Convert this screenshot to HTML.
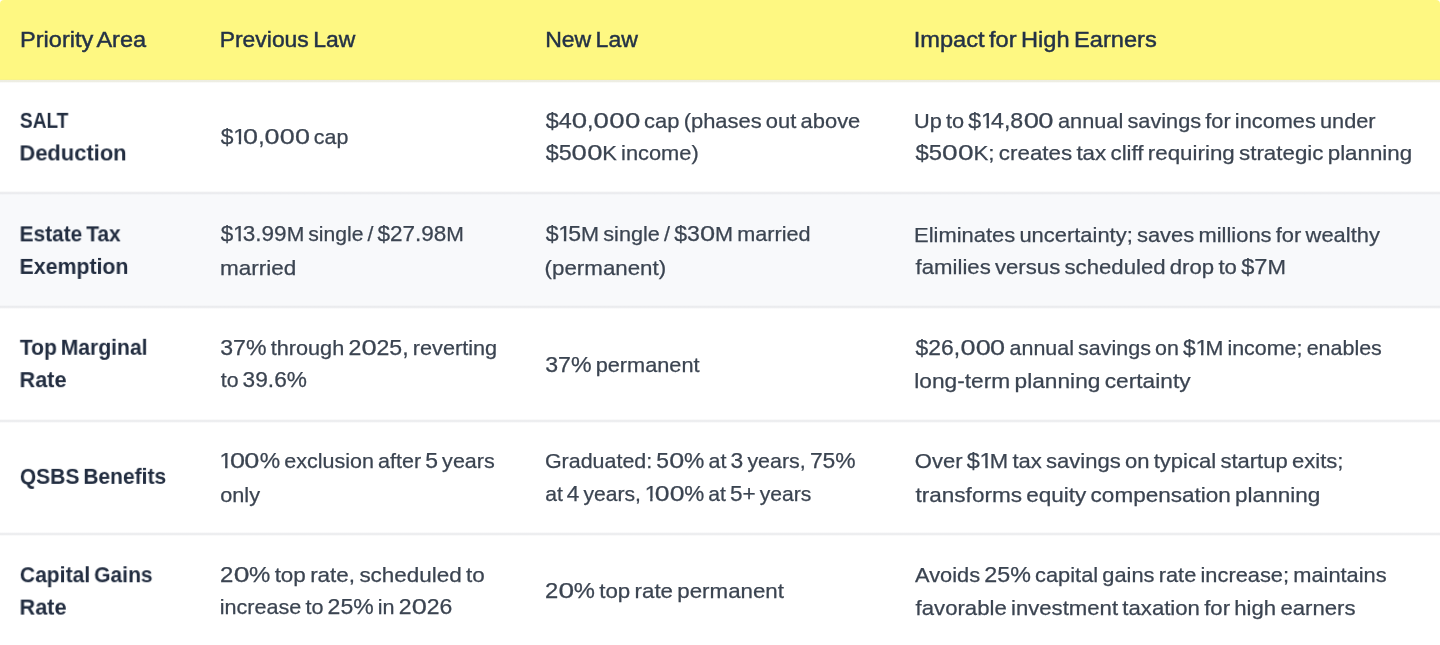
<!DOCTYPE html>
<html><head><meta charset="utf-8"><title>Tax law comparison</title>
<style>
html,body{margin:0;padding:0;background:#fff;}
body{width:1440px;height:645px;position:relative;overflow:hidden;font-family:"Liberation Sans",sans-serif;}
span{position:absolute;white-space:nowrap;line-height:30px;font-kerning:normal;transform-origin:0 0;will-change:transform;}
.hd{position:absolute;left:0;top:0;width:1440px;height:80.3px;background:#fef882;border-radius:4px 4px 0 0;}
.hl{position:absolute;left:0;width:1440px;height:4px;}
.row2{position:absolute;left:0;top:193.3px;width:1440px;height:114px;background:#f8f9fb;}
.h{font-weight:normal;color:#243246;font-size:22.4px;word-spacing:-2.0px;-webkit-text-stroke:0.45px #243246;}
.b{font-weight:bold;color:#222d40;font-size:22.0px;word-spacing:-2.0px;}
.r{font-weight:normal;color:#3b4451;font-size:21.0px;word-spacing:-1.8px;-webkit-text-stroke:0.25px #3b4451;}
u{text-decoration:none;font-size:22.4px}
b.z{font-weight:normal;display:inline-block;line-height:30px;transform:scaleX(1.18);margin:0 1.17px}
b.o{font-weight:normal;display:inline-block;line-height:30px;margin:0 -2.7px 0 -0.3px;clip-path:polygon(0 0,100% 0,100% 19.59px,0.348em 19.59px,0.348em 100%,0.244em 100%,0.244em 19.59px,0 19.59px)}
</style></head><body>
<div class="hd"></div>
<div class="row2"></div>
<div class="hl" style="top:78.8px;background:linear-gradient(to bottom,rgba(214,214,190,0) 0%,rgba(214,214,190,0.27) 25%,rgba(214,214,190,0.6) 50%,rgba(214,214,190,0.27) 75%,rgba(214,214,190,0) 100%)"></div>
<div class="hl" style="top:191.3px;background:linear-gradient(to bottom,rgba(229,230,233,0) 0%,rgba(229,230,233,0.43) 25%,rgba(229,230,233,0.95) 50%,rgba(229,230,233,0.43) 75%,rgba(229,230,233,0) 100%)"></div>
<div class="hl" style="top:305.4px;background:linear-gradient(to bottom,rgba(229,230,233,0) 0%,rgba(229,230,233,0.43) 25%,rgba(229,230,233,0.95) 50%,rgba(229,230,233,0.43) 75%,rgba(229,230,233,0) 100%)"></div>
<div class="hl" style="top:419.3px;background:linear-gradient(to bottom,rgba(229,230,233,0) 0%,rgba(229,230,233,0.43) 25%,rgba(229,230,233,0.95) 50%,rgba(229,230,233,0.43) 75%,rgba(229,230,233,0) 100%)"></div>
<div class="hl" style="top:531.7px;background:linear-gradient(to bottom,rgba(229,230,233,0) 0%,rgba(229,230,233,0.43) 25%,rgba(229,230,233,0.95) 50%,rgba(229,230,233,0.43) 75%,rgba(229,230,233,0) 100%)"></div>
<span class="h" style="left:20px;top:25px;transform:translate(0.02px,0.19px) scaleX(1.0514)">Priority Area</span>
<span class="h" style="left:219px;top:25px;transform:translate(0.66px,0.19px) scaleX(1.0236)">Previous Law</span>
<span class="h" style="left:545px;top:25px;transform:translate(0.16px,0.19px) scaleX(1.0292)">New Law</span>
<span class="h" style="left:913px;top:25px;transform:translate(0.75px,0.19px) scaleX(1.0546)">Impact for High Earners</span>
<span class="b" style="left:19px;top:105px;transform:translate(0.90px,0.83px) scaleX(0.8694)">SALT</span>
<span class="b" style="left:19px;top:138px;transform:translate(0.40px,0.43px) scaleX(0.9971)">Deduction</span>
<span class="r" style="left:220px;top:121px;transform:translate(0.75px,0.62px) scaleX(1.0198)"><u>$<b class="o">1</b><b class="z">0</b>,<b class="z">0</b><b class="z">0</b><b class="z">0</b></u> cap</span>
<span class="r" style="left:545px;top:105px;transform:translate(0.69px,0.67px) scaleX(1.0441)"><u>$4<b class="z">0</b>,<b class="z">0</b><b class="z">0</b><b class="z">0</b></u> cap (phases out above</span>
<span class="r" style="left:545px;top:138px;transform:translate(0.69px,0.02px) scaleX(1.0398)"><u>$5<b class="z">0</b><b class="z">0</b></u>K income)</span>
<span class="r" style="left:914px;top:105px;transform:translate(0.05px,0.67px) scaleX(1.0351)">Up to <u>$<b class="o">1</b>4,8<b class="z">0</b><b class="z">0</b></u> annual savings for incomes under</span>
<span class="r" style="left:915px;top:138px;transform:translate(0.58px,0.02px) scaleX(1.0634)"><u>$5<b class="z">0</b><b class="z">0</b></u>K; creates tax cliff requiring strategic planning</span>
<span class="b" style="left:19px;top:219px;transform:translate(0.53px,0.33px) scaleX(0.9494)">Estate Tax</span>
<span class="b" style="left:19px;top:251px;transform:translate(0.50px,0.93px) scaleX(0.9690)">Exemption</span>
<span class="r" style="left:220px;top:219px;transform:translate(0.75px,0.17px) scaleX(1.0058)"><u>$<b class="o">1</b>3.99</u>M single / <u>$27.98</u>M</span>
<span class="r" style="left:219px;top:252px;transform:translate(0.91px,0.52px) scaleX(1.0713)">married</span>
<span class="r" style="left:545px;top:219px;transform:translate(0.69px,0.17px) scaleX(1.0301)"><u>$<b class="o">1</b>5</u>M single / <u>$3<b class="z">0</b></u>M married</span>
<span class="r" style="left:544px;top:252px;transform:translate(0.62px,0.52px) scaleX(1.0625)">(permanent)</span>
<span class="r" style="left:914px;top:220px;transform:translate(0.03px,0.17px) scaleX(1.0442)">Eliminates uncertainty; saves millions for wealthy</span>
<span class="r" style="left:915px;top:251px;transform:translate(0.59px,0.52px) scaleX(1.0553)">families versus scheduled drop to <u>$7</u>M</span>
<span class="b" style="left:19px;top:332px;transform:translate(0.86px,0.78px) scaleX(0.9570)">Top Marginal</span>
<span class="b" style="left:19px;top:365px;transform:translate(0.47px,0.13px) scaleX(0.9869)">Rate</span>
<span class="r" style="left:220px;top:332px;transform:translate(0.23px,0.62px) scaleX(1.0325)"><u>37%</u> through <u>2<b class="z">0</b>25,</u> reverting</span>
<span class="r" style="left:220px;top:364px;transform:translate(0.75px,0.97px) scaleX(1.0131)">to <u>39.6%</u></span>
<span class="r" style="left:545px;top:349px;transform:translate(0.17px,0.72px) scaleX(1.0343)"><u>37%</u> permanent</span>
<span class="r" style="left:915px;top:332px;transform:translate(0.59px,0.62px) scaleX(1.0219)"><u>$26,<b class="z">0</b><b class="z">0</b><b class="z">0</b></u> annual savings on <u>$<b class="o">1</b></u>M income; enables</span>
<span class="r" style="left:914px;top:365px;transform:translate(0.25px,0.97px) scaleX(1.0814)">long-term planning certainty</span>
<span class="b" style="left:19px;top:461px;transform:translate(0.85px,0.83px) scaleX(0.9547)">QSBS Benefits</span>
<span class="r" style="left:219px;top:446px;transform:translate(0.81px,0.17px) scaleX(1.0241)"><u><b class="o">1</b><b class="z">0</b><b class="z">0</b>%</u> exclusion after <u>5</u> years</span>
<span class="r" style="left:220px;top:479px;transform:translate(0.23px,0.52px) scaleX(1.0331)">only</span>
<span class="r" style="left:544px;top:446px;transform:translate(0.93px,0.17px) scaleX(1.0208)">Graduated: <u>5<b class="z">0</b>%</u> at <u>3</u> years, <u>75%</u></span>
<span class="r" style="left:545px;top:478px;transform:translate(0.20px,0.52px) scaleX(1.0051)">at <u>4</u> years, <u><b class="o">1</b><b class="z">0</b><b class="z">0</b>%</u> at <u>5+</u> years</span>
<span class="r" style="left:914px;top:446px;transform:translate(0.80px,0.17px) scaleX(1.0493)">Over <u>$<b class="o">1</b></u>M tax savings on typical startup exits;</span>
<span class="r" style="left:915px;top:479px;transform:translate(0.58px,0.52px) scaleX(1.0719)">transforms equity compensation planning</span>
<span class="b" style="left:19px;top:560px;transform:translate(0.84px,0.23px) scaleX(0.9583)">Capital Gains</span>
<span class="b" style="left:19px;top:592px;transform:translate(0.47px,0.58px) scaleX(0.9869)">Rate</span>
<span class="r" style="left:219px;top:560px;transform:translate(0.93px,0.07px) scaleX(1.0689)"><u>2<b class="z">0</b>%</u> top rate, scheduled to</span>
<span class="r" style="left:219px;top:592px;transform:translate(0.72px,0.42px) scaleX(1.0277)">increase to <u>25%</u> in <u>2<b class="z">0</b>26</u></span>
<span class="r" style="left:544px;top:576px;transform:translate(0.89px,0.22px) scaleX(1.0625)"><u>2<b class="z">0</b>%</u> top rate permanent</span>
<span class="r" style="left:915px;top:560px;transform:translate(0.00px,0.07px) scaleX(1.0391)">Avoids <u>25%</u> capital gains rate increase; maintains</span>
<span class="r" style="left:915px;top:593px;transform:translate(0.59px,0.42px) scaleX(1.0548)">favorable investment taxation for high earners</span>
</body></html>
